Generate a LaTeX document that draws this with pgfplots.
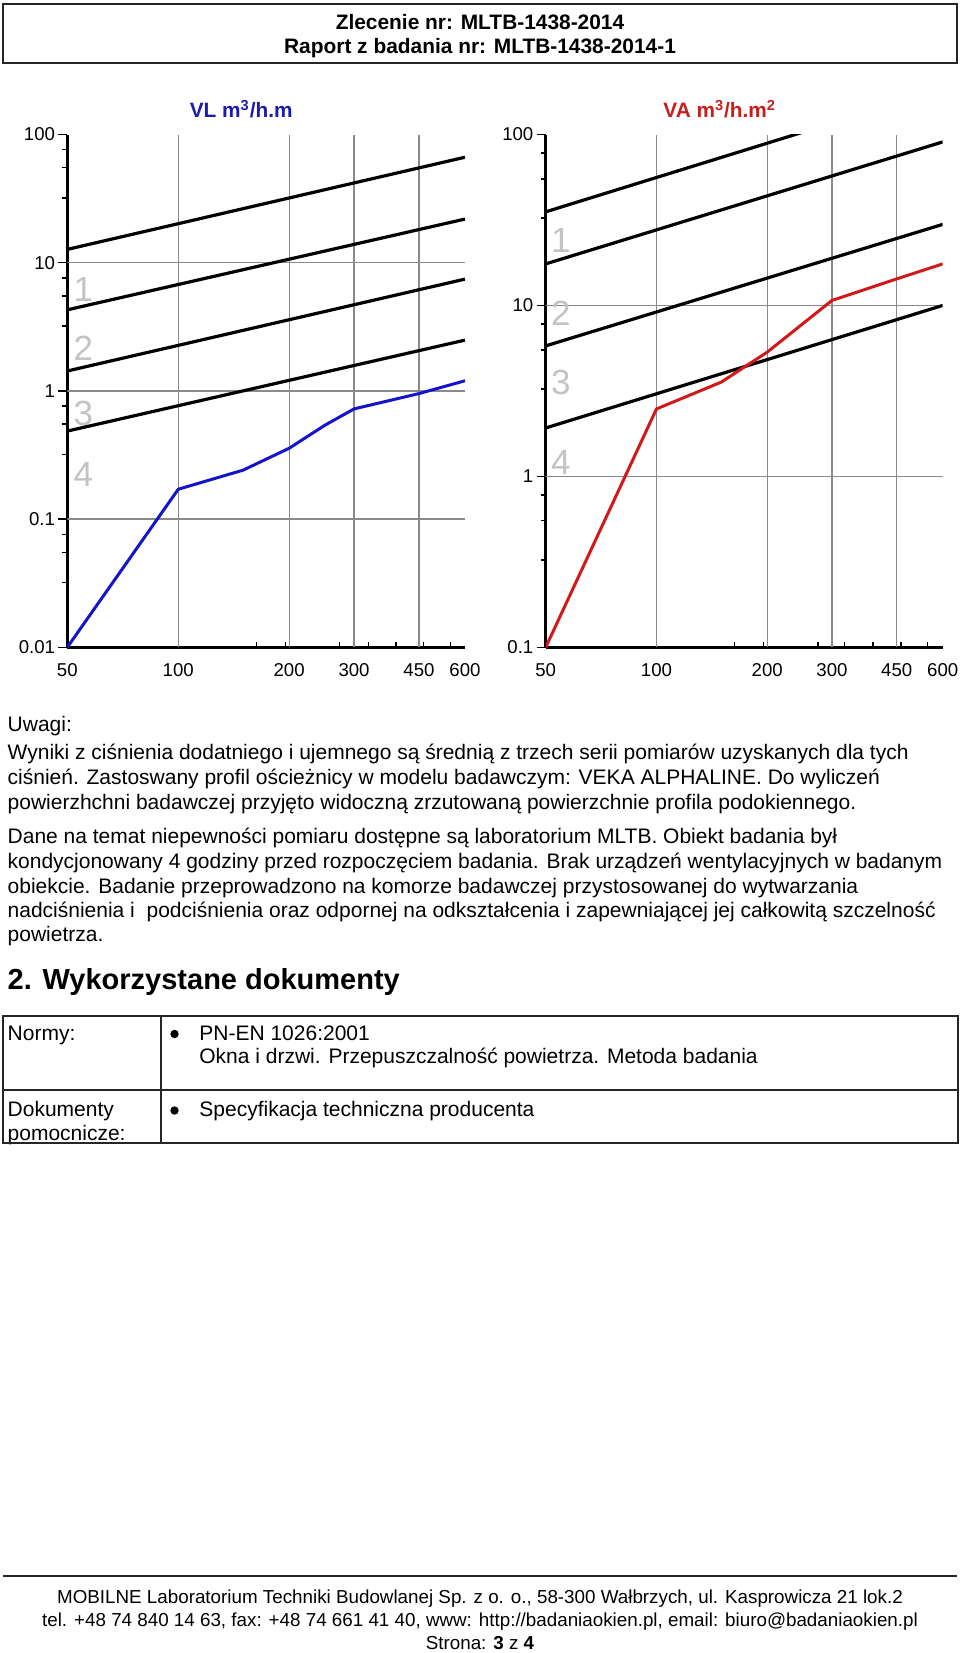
\documentclass[border=0pt]{standalone}
\usepackage{pgfplots}
\pgfplotsset{compat=1.18}
\usepackage{fontspec}
\setmainfont{Liberation Sans}
\definecolor{bluel}{RGB}{20,20,200}
\definecolor{bluet}{RGB}{28,28,170}
\definecolor{redl}{RGB}{210,25,25}
\definecolor{redt}{RGB}{200,30,30}
\definecolor{gridc}{RGB}{138,138,138}
\definecolor{lbl}{RGB}{195,195,195}
\newcommand{\fs}[1]{\fontsize{#1}{#1}\selectfont}

\begin{document}
\begin{tikzpicture}
\begin{scope}[x=0.5pt,y=-0.5pt]
\path[use as bounding box] (0,0) rectangle (960,1653);
\fill[white] (0,0) rectangle (960,1653);
% header
\draw[line width=1pt, black!85] (3,4) rectangle (957,63);
\node[anchor=base, inner sep=0, font={\fs{10.45pt}\bfseries}] at (480,29.3) {Zlecenie nr: MLTB-1438-2014};
\node[anchor=base, inner sep=0, font={\fs{10.45pt}\bfseries}] at (480,53.3) {Raport z badania nr: MLTB-1438-2014-1};
% chart titles
\node[anchor=base, inner sep=0, font={\fs{10.4pt}\bfseries}, text=bluet] at (241.2,117.3) {VL m\textsuperscript{3}/h.m};
\node[anchor=base, inner sep=0, font={\fs{10.4pt}\bfseries}, text=redt] at (719.7,117.3) {VA m\textsuperscript{3}/h.m\textsuperscript{2}};
% body text
\begin{scope}[every node/.style={anchor=base west, inner sep=0, font={\fs{10.5pt}}}]
\node at (7.3,731.5) {Uwagi:};
\node at (7.3,759.8) {Wyniki z ciśnienia dodatniego i ujemnego są średnią z trzech serii pomiarów uzyskanych dla tych};
\node at (7.3,784.8) {ciśnień. Zastoswany profil ościeżnicy w modelu badawczym: VEKA ALPHALINE. Do wyliczeń};
\node at (7.3,809.8) {powierzhchni badawczej przyjęto widoczną zrzutowaną powierzchnie profila podokiennego.};
\node at (7.3,843.2) {Dane na temat niepewności pomiaru dostępne są laboratorium MLTB. Obiekt badania był};
\node at (7.3,868.2) {kondycjonowany 4 godziny przed rozpoczęciem badania. Brak urządzeń wentylacyjnych w badanym};
\node at (7.3,893.2) {obiekcie. Badanie przeprowadzono na komorze badawczej przystosowanej do wytwarzania};
\node at (7.3,917.2) {nadciśnienia i\ \ podciśnienia oraz odpornej na odkształcenia i zapewniającej jej całkowitą szczelność};
\node at (7.3,941.5) {powietrza.};
\node[font={\fs{14.5pt}\bfseries}] at (7.3,989.5) {2. Wykorzystane dokumenty};
% table
\node at (7.3,1040) {Normy:};
\node at (199,1040) {PN-EN 1026:2001};
\node at (199,1063.3) {Okna i drzwi. Przepuszczalność powietrza. Metoda badania};
\node at (7.3,1116.7) {Dokumenty};
\node at (7.3,1140) {pomocnicze:};
\node at (199,1116.5) {Specyfikacja techniczna producenta};
\end{scope}
\draw[line width=1pt, black!85] (3,1016) rectangle (958,1143);
\draw[line width=1pt, black!85] (3,1090) -- (958,1090);
\draw[line width=1pt, black!85] (161,1016) -- (161,1143);
\fill (174.5,1034) circle[radius=2.1pt];
\fill (174.5,1110.5) circle[radius=2.1pt];
% footer
\draw[line width=1pt, black!85] (3,1576) -- (957,1576);
\node[anchor=base, inner sep=0, font={\fs{9.4pt}}] at (480,1603.5) {MOBILNE Laboratorium Techniki Budowlanej Sp. z o. o., 58-300 Wałbrzych, ul. Kasprowicza 21 lok.2};
\node[anchor=base, inner sep=0, font={\fs{9.4pt}}] at (480,1626.5) {tel. +48 74 840 14 63, fax: +48 74 661 41 40, www: http://badaniaokien.pl, email: biuro@badaniaokien.pl};
\node[anchor=base, inner sep=0, font={\fs{9.4pt}}] at (480,1649) {Strona: \textbf{3} z \textbf{4}};
\end{scope}

% ---------- left chart: VL ----------
\begin{axis}[scale only axis, width=198.85pt, height=256.4pt,
  at={(33.65pt,-323.65pt)}, anchor=south west,
  xmode=log, ymode=log, xmin=50, xmax=600, ymin=0.01, ymax=100,
  axis x line*=bottom, axis y line*=left,
  axis line style={line width=1.5pt, black},
  xtick={50,100,200,300,450,600}, xticklabels={50,100,200,300,450,600},
  tick align=outside, major tick length=4.5pt, minor tick length=2.6pt,
  tick style={black, line width=0.7pt},
  xtick style={draw=none},
  tick label style={font={\fs{9.3pt}}, inner sep=1.5pt},
  xticklabel style={yshift=-2pt},
  ytick={0.01,0.1,1,10,100}, yticklabels={0.01,0.1,1,10,100},
  minor ytick={0.032,0.055,0.076,0.32,0.55,0.76,3.2,5.5,7.6,32,55,76}]
\draw[gridc, line width=0.65pt] (axis cs:100,0.01) -- (axis cs:100,100);
\draw[gridc, line width=0.65pt] (axis cs:200,0.01) -- (axis cs:200,100);
\draw[gridc, line width=0.65pt] (axis cs:300,0.01) -- (axis cs:300,100);
\draw[gridc, line width=0.65pt] (axis cs:450,0.01) -- (axis cs:450,100);
\draw[gridc, line width=0.65pt] (axis cs:50,10) -- (axis cs:600,10);
\draw[gridc, line width=0.65pt] (axis cs:50,1) -- (axis cs:600,1);
\draw[gridc, line width=0.65pt] (axis cs:50,0.1) -- (axis cs:600,0.1);
\draw[line width=0.6pt] (axis cs:163,0.01) -- ([yshift=2.8pt]axis cs:163,0.01);
\draw[line width=0.6pt] (axis cs:195,0.01) -- ([yshift=2.8pt]axis cs:195,0.01);
\draw[line width=0.6pt] (axis cs:274,0.01) -- ([yshift=2.8pt]axis cs:274,0.01);
\draw[line width=0.6pt] (axis cs:328,0.01) -- ([yshift=2.8pt]axis cs:328,0.01);
\draw[line width=0.6pt] (axis cs:390,0.01) -- ([yshift=2.8pt]axis cs:390,0.01);
\draw[line width=0.6pt] (axis cs:462,0.01) -- ([yshift=2.8pt]axis cs:462,0.01);
\draw[line width=0.6pt] (axis cs:549,0.01) -- ([yshift=2.8pt]axis cs:549,0.01);
\node[text=lbl, font={\fs{17.5pt}}] at (axis cs:55.3,6.23) {1};
\node[text=lbl, font={\fs{17.5pt}}] at (axis cs:55.3,2.16) {2};
\node[text=lbl, font={\fs{17.5pt}}] at (axis cs:55.3,0.673) {3};
\node[text=lbl, font={\fs{17.5pt}}] at (axis cs:55.3,0.221) {4};
\addplot[black, line width=1.6pt] coordinates {(50,12.7) (600,66.5)};
\addplot[black, line width=1.6pt] coordinates {(50,4.29) (600,21.9)};
\addplot[black, line width=1.6pt] coordinates {(50,1.43) (600,7.45)};
\addplot[black, line width=1.6pt] coordinates {(50,0.486) (600,2.49)};
\addplot[bluel, line width=1.5pt] coordinates {(50,0.01) (100,0.171) (150,0.241) (200,0.357) (250,0.54) (300,0.724) (450,0.953) (600,1.20)};
\end{axis}

% ---------- right chart: VA ----------
\begin{axis}[scale only axis, width=198.5pt, height=256.4pt,
  at={(272.85pt,-323.65pt)}, anchor=south west,
  xmode=log, ymode=log, xmin=50, xmax=600, ymin=0.1, ymax=100,
  axis x line*=bottom, axis y line*=left,
  axis line style={line width=1.5pt, black},
  xtick={50,100,200,300,450,600}, xticklabels={50,100,200,300,450,600},
  tick align=outside, major tick length=4.5pt, minor tick length=2.6pt,
  tick style={black, line width=0.7pt},
  xtick style={draw=none},
  tick label style={font={\fs{9.3pt}}, inner sep=1.5pt},
  xticklabel style={yshift=-2pt},
  ytick={0.1,1,10,100}, yticklabels={0.1,1,10,100},
  minor ytick={0.325,0.55,0.78,3.25,5.5,7.8,32.5,55,78}]
\draw[gridc, line width=0.65pt] (axis cs:100,0.1) -- (axis cs:100,100);
\draw[gridc, line width=0.65pt] (axis cs:200,0.1) -- (axis cs:200,100);
\draw[gridc, line width=0.65pt] (axis cs:300,0.1) -- (axis cs:300,100);
\draw[gridc, line width=0.65pt] (axis cs:450,0.1) -- (axis cs:450,100);
\draw[gridc, line width=0.65pt] (axis cs:50,10) -- (axis cs:600,10);
\draw[gridc, line width=0.65pt] (axis cs:50,1) -- (axis cs:600,1);
\draw[line width=0.6pt] (axis cs:163,0.1) -- ([yshift=2.8pt]axis cs:163,0.1);
\draw[line width=0.6pt] (axis cs:195,0.1) -- ([yshift=2.8pt]axis cs:195,0.1);
\draw[line width=0.6pt] (axis cs:275,0.1) -- ([yshift=2.8pt]axis cs:275,0.1);
\draw[line width=0.6pt] (axis cs:325,0.1) -- ([yshift=2.8pt]axis cs:325,0.1);
\draw[line width=0.6pt] (axis cs:388,0.1) -- ([yshift=2.8pt]axis cs:388,0.1);
\draw[line width=0.6pt] (axis cs:462,0.1) -- ([yshift=2.8pt]axis cs:462,0.1);
\draw[line width=0.6pt] (axis cs:546,0.1) -- ([yshift=2.8pt]axis cs:546,0.1);
\node[text=lbl, font={\fs{17.5pt}}] at (axis cs:55.0,23.9) {1};
\node[text=lbl, font={\fs{17.5pt}}] at (axis cs:55.0,8.98) {2};
\node[text=lbl, font={\fs{17.5pt}}] at (axis cs:55.0,3.55) {3};
\node[text=lbl, font={\fs{17.5pt}}] at (axis cs:55.0,1.20) {4};
\addplot[black, line width=1.6pt] coordinates {(50,35.3) (600,185)};
\addplot[black, line width=1.6pt] coordinates {(50,17.5) (600,90.5)};
\addplot[black, line width=1.6pt] coordinates {(50,5.8) (600,29.8)};
\addplot[black, line width=1.6pt] coordinates {(50,1.92) (600,10.0)};
\addplot[redl, line width=1.5pt] coordinates {(50,0.1) (100,2.48) (150,3.56) (200,5.33) (300,10.7) (450,14.3) (600,17.5)};
\end{axis}
\end{tikzpicture}
\end{document}
